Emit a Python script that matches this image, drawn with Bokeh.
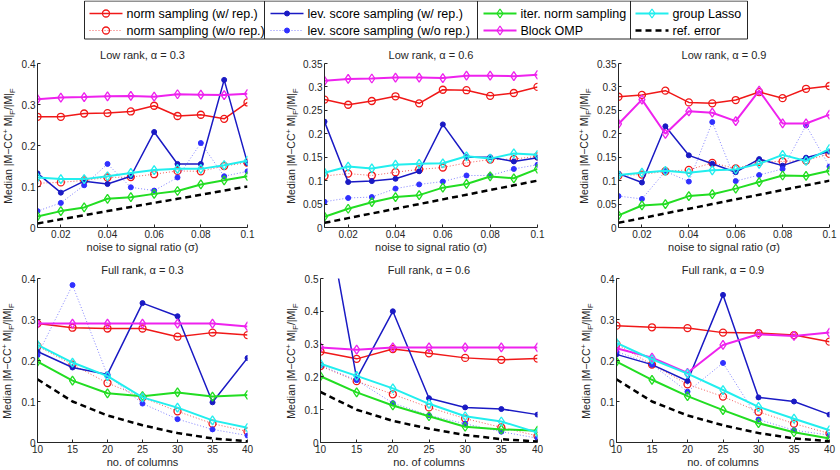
from bokeh.plotting import figure
from bokeh.models import Range1d, FixedTicker, Label, Div
from bokeh.layouts import column, row
from bokeh.embed import file_html
from bokeh.resources import INLINE

# ---------------------------------------------------------------- data
noise = [0.01, 0.02, 0.03, 0.04, 0.05, 0.06, 0.07, 0.08, 0.09, 0.10]
n_cols = [10, 15, 20, 25, 30, 35, 40]

ref_low = [0.01, 0.02, 0.03, 0.04, 0.05, 0.06, 0.07, 0.08, 0.09, 0.10]
ref_full = [0.154, 0.100, 0.066, 0.042, 0.023, 0.010, 0.003]

low_03 = dict(
    norm_rep=[0.270, 0.270, 0.278, 0.279, 0.283, 0.297, 0.272, 0.275, 0.265, 0.305],
    norm_norep=[0.108, 0.110, 0.115, 0.122, 0.123, 0.130, 0.138, 0.137, 0.150, 0.158],
    lev_rep=[0.132, 0.085, 0.113, 0.106, 0.125, 0.233, 0.155, 0.155, 0.360, 0.157],
    lev_norep=[0.040, 0.060, 0.103, 0.155, 0.098, 0.090, 0.122, 0.206, 0.125, 0.137],
    iter_norm=[0.027, 0.040, 0.049, 0.070, 0.074, 0.082, 0.089, 0.105, 0.115, 0.125],
    omp=[0.313, 0.317, 0.318, 0.320, 0.321, 0.319, 0.325, 0.324, 0.323, 0.326],
    lasso=[0.122, 0.118, 0.118, 0.125, 0.133, 0.140, 0.143, 0.143, 0.152, 0.163],
)
low_06 = dict(
    norm_rep=[0.273, 0.262, 0.270, 0.280, 0.265, 0.294, 0.293, 0.281, 0.287, 0.300],
    norm_norep=[0.110, 0.115, 0.111, 0.118, 0.124, 0.128, 0.138, 0.145, 0.146, 0.152],
    lev_rep=[0.226, 0.097, 0.099, 0.104, 0.120, 0.220, 0.150, 0.150, 0.141, 0.149],
    lev_norep=[0.055, 0.063, 0.065, 0.083, 0.092, 0.098, 0.111, 0.111, 0.125, 0.134],
    iter_norm=[0.023, 0.040, 0.054, 0.065, 0.069, 0.085, 0.093, 0.109, 0.105, 0.125],
    omp=[0.313, 0.317, 0.318, 0.320, 0.320, 0.319, 0.324, 0.324, 0.323, 0.326],
    lasso=[0.117, 0.130, 0.126, 0.134, 0.136, 0.137, 0.152, 0.147, 0.158, 0.155],
)
low_09 = dict(
    norm_rep=[0.279, 0.283, 0.292, 0.267, 0.265, 0.272, 0.289, 0.276, 0.296, 0.302],
    norm_norep=[0.111, 0.113, 0.120, 0.123, 0.138, 0.126, 0.140, 0.141, 0.143, 0.157],
    lev_rep=[0.115, 0.096, 0.216, 0.154, 0.136, 0.118, 0.146, 0.132, 0.149, 0.162],
    lev_norep=[0.067, 0.061, 0.120, 0.098, 0.225, 0.099, 0.112, 0.125, 0.218, 0.130],
    iter_norm=[0.026, 0.047, 0.050, 0.067, 0.071, 0.083, 0.097, 0.111, 0.110, 0.121],
    omp=[0.221, 0.273, 0.200, 0.248, 0.245, 0.227, 0.292, 0.222, 0.222, 0.241],
    lasso=[0.112, 0.117, 0.121, 0.117, 0.122, 0.124, 0.136, 0.155, 0.142, 0.168],
)
full_03 = dict(
    norm_rep=[0.290, 0.280, 0.278, 0.278, 0.258, 0.268, 0.262],
    norm_norep=[0.235, 0.190, 0.145, 0.110, 0.076, 0.046, 0.027],
    lev_rep=[0.222, 0.183, 0.166, 0.340, 0.308, 0.098, 0.206],
    lev_norep=[0.213, 0.384, 0.164, 0.095, 0.057, 0.032, 0.017],
    iter_norm=[0.197, 0.151, 0.120, 0.113, 0.122, 0.112, 0.116],
    omp=[0.290, 0.290, 0.290, 0.290, 0.290, 0.290, 0.283],
    lasso=[0.238, 0.195, 0.162, 0.110, 0.085, 0.054, 0.036],
)
full_06 = dict(
    norm_rep=[0.277, 0.255, 0.285, 0.272, 0.258, 0.252, 0.256],
    norm_norep=[0.233, 0.187, 0.147, 0.107, 0.073, 0.046, 0.020],
    lev_rep=[0.805, 0.195, 0.400, 0.135, 0.107, 0.102, 0.085],
    lev_norep=[0.235, 0.190, 0.120, 0.083, 0.057, 0.033, 0.013],
    iter_norm=[0.202, 0.153, 0.113, 0.080, 0.048, 0.040, 0.036],
    omp=[0.290, 0.283, 0.290, 0.290, 0.290, 0.290, 0.290],
    lasso=[0.240, 0.203, 0.165, 0.118, 0.080, 0.064, 0.030],
)
full_09 = dict(
    norm_rep=[0.285, 0.281, 0.279, 0.268, 0.267, 0.262, 0.246],
    norm_norep=[0.240, 0.190, 0.142, 0.112, 0.075, 0.046, 0.022],
    lev_rep=[0.215, 0.190, 0.150, 0.360, 0.110, 0.100, 0.068],
    lev_norep=[0.222, 0.190, 0.124, 0.194, 0.056, 0.030, 0.018],
    iter_norm=[0.197, 0.153, 0.113, 0.079, 0.047, 0.025, 0.010],
    omp=[0.230, 0.207, 0.170, 0.238, 0.264, 0.260, 0.268],
    lasso=[0.243, 0.203, 0.168, 0.128, 0.087, 0.058, 0.030],
)

titles = ["Low rank, \u03b1 = 0.3", "Low rank, \u03b1 = 0.6", "Low rank, \u03b1 = 0.9",
          "Full rank, \u03b1 = 0.3", "Full rank, \u03b1 = 0.6", "Full rank, \u03b1 = 0.9"]
xlabel_low = "noise to signal ratio (\u03c3)"
xlabel_full = "no. of columns"
# y label split into runs: (text, role) with role main / sup / sub
ylabel_runs = [("Median |M\u2212CC", "main"), ("+", "sup"), (" M|", "main"), ("F", "sub"),
               ("/|M|", "main"), ("F", "sub")]

x_ticks_low = [0.02, 0.04, 0.06, 0.08, 0.1]
x_labels_low = ["0.02", "0.04", "0.06", "0.08", "0.1"]
x_ticks_full = [10, 15, 20, 25, 30, 35, 40]
x_labels_full = ["10", "15", "20", "25", "30", "35", "40"]
y_ticks_04 = [0, 0.1, 0.2, 0.3, 0.4]
y_labels_04 = ["0", "0.1", "0.2", "0.3", "0.4"]
y_ticks_035 = [0, 0.05, 0.1, 0.15, 0.2, 0.25, 0.3, 0.35]
y_labels_035 = ["0", "0.05", "0.1", "0.15", "0.2", "0.25", "0.3", "0.35"]
y_ticks_05 = [0, 0.1, 0.2, 0.3, 0.4, 0.5]
y_labels_05 = ["0", "0.1", "0.2", "0.3", "0.4", "0.5"]

legend_names = {
    "norm_rep": "norm sampling (w/ rep.)",
    "norm_norep": "norm sampling (w/o rep.)",
    "lev_rep": "lev. score sampling (w/ rep.)",
    "lev_norep": "lev. score sampling (w/o rep.)",
    "iter_norm": "iter. norm sampling",
    "omp": "Block OMP",
    "lasso": "group Lasso",
    "ref": "ref. error",
}

# ---------------------------------------------------------------- styles
FONT = "Liberation Sans"
INK = "#262626"
RED, BLUE, GREEN, MAGENTA, CYAN = "#f01818", "#1a1ac4", "#22dd22", "#ee22ee", "#22eeee"

STYLE = {
    "norm_rep":   dict(color=RED, width=1.5, dash="solid", alpha=1.0, marker="circle", size=7, filled=False),
    "norm_norep": dict(color=RED, width=1.0, dash="1 2", alpha=0.7, marker="circle", size=7, filled=False),
    "lev_rep":    dict(color=BLUE, width=1.5, dash="solid", alpha=1.0, marker="circle", size=5, filled=True),
    "lev_norep":  dict(color="#3030ff", width=1.0, dash="1 2", alpha=0.6, marker="circle", size=5, filled=True),
    "iter_norm":  dict(color=GREEN, width=2.0, dash="solid", alpha=1.0, marker="diamond", size=9, filled=False),
    "omp":        dict(color=MAGENTA, width=2.0, dash="solid", alpha=1.0, marker="diamond", size=9, filled=False),
    "lasso":      dict(color=CYAN, width=2.0, dash="solid", alpha=1.0, marker="diamond", size=9, filled=False),
    "ref":        dict(color="black", width=2.5, dash="6 4", alpha=1.0, marker=None, size=0, filled=False),
}
ORDER = ["norm_rep", "norm_norep", "lev_rep", "lev_norep", "iter_norm", "omp", "lasso"]

RUN_CSS = {"main": "",
           "sup": "font-size:7.5px;vertical-align:4px;",
           "sub": "font-size:7.5px;vertical-align:-3px;"}

W, H, TOP, BOT = 280, 215, 23, 26
FH = H - TOP - BOT


def draw_series(p, x, y, key):
    st = STYLE[key]
    p.line(x, y, line_color=st["color"], line_width=st["width"], line_dash=st["dash"],
           line_alpha=st["alpha"])
    if st["marker"]:
        p.scatter(x, y, marker=st["marker"], size=st["size"], line_color=st["color"],
                  line_width=1.3 if not st["filled"] else 1.0,
                  fill_color=st["color"] if st["filled"] else None)


def ylabel_strip(width, xc):
    """Narrow block with the rotated y label; the browser lays out the scripts."""
    inner = "".join(
        t if r == "main" else f'<span style="{RUN_CSS[r]}">{t}</span>' for t, r in ylabel_runs)
    yc = TOP + FH / 2.0
    html = (
        f'<div style="display:block;width:max-content;white-space:nowrap;'
        f"font-family:'{FONT}';font-size:10.5px;line-height:12px;color:{INK};"
        f"transform-origin:50% 50%;"
        f'transform:translate({xc}px,{yc}px) translate(-50%,-50%) rotate(-90deg);">'
        f"{inner}</div>"
    )
    return Div(text=html, width=width, height=H, margin=(0, 0, 0, 0),
               styles={"overflow": "visible", "padding": "0", "margin": "0"})


def make_panel(title, x, data, ref, xr, yr, xt, xl, yt, yl, xlabel, width, left, right):
    p = figure(width=width, height=H, output_backend="svg", toolbar_location=None,
               x_range=Range1d(*xr), y_range=Range1d(*yr),
               min_border_left=left, min_border_right=right,
               min_border_top=TOP, min_border_bottom=BOT, title=title)
    p.title.align = "center"
    p.title.text_font = FONT
    p.title.text_font_size = "11px"
    p.title.text_font_style = "normal"
    p.title.text_color = INK
    p.title.standoff = 5
    p.outline_line_color = None
    p.grid.visible = False
    for ax in (p.xaxis[0], p.yaxis[0]):
        ax.axis_line_color = INK
        ax.axis_line_width = 1
        ax.major_tick_line_color = INK
        ax.major_tick_in = 3
        ax.major_tick_out = 0
        ax.minor_tick_line_color = None
        ax.major_label_text_font = FONT
        ax.major_label_text_font_size = "10px"
        ax.major_label_text_color = INK
    p.xaxis.ticker = FixedTicker(ticks=xt)
    p.xaxis.major_label_overrides = {t: s for t, s in zip(xt, xl)}
    p.yaxis.ticker = FixedTicker(ticks=yt)
    p.yaxis.major_label_overrides = {t: s for t, s in zip(yt, yl)}
    p.xaxis.major_label_standoff = 2
    p.yaxis.major_label_standoff = 2
    p.xaxis.axis_label = xlabel
    p.xaxis.axis_label_standoff = 0
    p.xaxis.axis_label_text_font = FONT
    p.xaxis.axis_label_text_font_size = "11px"
    p.xaxis.axis_label_text_font_style = "normal"
    p.xaxis.axis_label_text_color = INK

    for key in ORDER:
        draw_series(p, x, data[key], key)
    draw_series(p, x, ref, "ref")
    return p


def cell(strip_w, label_x, frame_left, frame_right, *args):
    """One grid cell: y-label strip + panel; frame edges given relative to the cell."""
    pw = W - strip_w
    panel = make_panel(*args, width=pw, left=frame_left - strip_w, right=W - frame_right)
    return row(ylabel_strip(strip_w, label_x), panel)


c1 = cell(18, 9, 35, 247, titles[0], noise, low_03, ref_low, (0.01, 0.1), (0, 0.4),
          x_ticks_low, x_labels_low, y_ticks_04, y_labels_04, xlabel_low)
c2 = cell(20, 12, 42, 257, titles[1], noise, low_06, ref_low, (0.01, 0.1), (0, 0.35),
          x_ticks_low, x_labels_low, y_ticks_035, y_labels_035, xlabel_low)
c3 = cell(34, 25, 56, 269, titles[2], noise, low_09, ref_low, (0.01, 0.1), (0, 0.35),
          x_ticks_low, x_labels_low, y_ticks_035, y_labels_035, xlabel_low)
c4 = cell(18, 8, 35, 247, titles[3], n_cols, full_03, ref_full, (10, 40), (0, 0.4),
          x_ticks_full, x_labels_full, y_ticks_04, y_labels_04, xlabel_full)
c5 = cell(20, 12, 40, 257, titles[4], n_cols, full_06, ref_full, (10, 40), (0, 0.5),
          x_ticks_full, x_labels_full, y_ticks_05, y_labels_05, xlabel_full)
c6 = cell(34, 27, 56, 269, titles[5], n_cols, full_09, ref_full, (10, 40), (0, 0.4),
          x_ticks_full, x_labels_full, y_ticks_04, y_labels_04, xlabel_full)

# ---------------------------------------------------------------- legend strip
lg = figure(width=840, height=40, output_backend="svg", toolbar_location=None,
            x_range=Range1d(0, 840), y_range=Range1d(40, 0),
            min_border=0, min_border_left=0, min_border_right=0,
            min_border_top=0, min_border_bottom=0)
lg.axis.visible = False
lg.grid.visible = False
lg.outline_line_color = None

BOX_L, BOX_R, BOX_T, BOX_B = 84, 747, 0.5, 38.5
SEPS = [264, 477, 630]
lg.multi_line(xs=[[BOX_L, BOX_R], [BOX_L, BOX_R], [BOX_L, BOX_L], [BOX_R, BOX_R]],
              ys=[[BOX_T, BOX_T], [BOX_B, BOX_B], [BOX_T, BOX_B], [BOX_T, BOX_B]],
              line_color=INK, line_width=1)
lg.multi_line(xs=[[s, s] for s in SEPS], ys=[[BOX_T, BOX_B]] * len(SEPS),
              line_color=INK, line_width=1)

ROWS = [13, 30]
COLS = [(89, ["norm_rep", "norm_norep"]), (270, ["lev_rep", "lev_norep"]),
        (483, ["iter_norm", "omp"]), (635, ["lasso", "ref"])]
ICON_W = 33
for x0, keys in COLS:
    for ry, key in zip(ROWS, keys):
        st = STYLE[key]
        lg.line([x0, x0 + ICON_W], [ry, ry], line_color=st["color"], line_width=st["width"],
                line_dash=st["dash"], line_alpha=st["alpha"])
        if st["marker"]:
            lg.scatter([x0 + ICON_W / 2], [ry], marker=st["marker"], size=st["size"],
                       line_color=st["color"], line_width=1.3 if not st["filled"] else 1.0,
                       fill_color=st["color"] if st["filled"] else None)
        lg.add_layout(Label(x=x0 + ICON_W + 4, y=ry, text=legend_names[key],
                            text_align="left", text_baseline="middle",
                            text_font=FONT, text_font_size="12.5px", text_color="black"))

layout = column(lg, row(c1, c2, c3), row(c4, c5, c6))
open("out.html", "w").write(file_html(layout, INLINE))
